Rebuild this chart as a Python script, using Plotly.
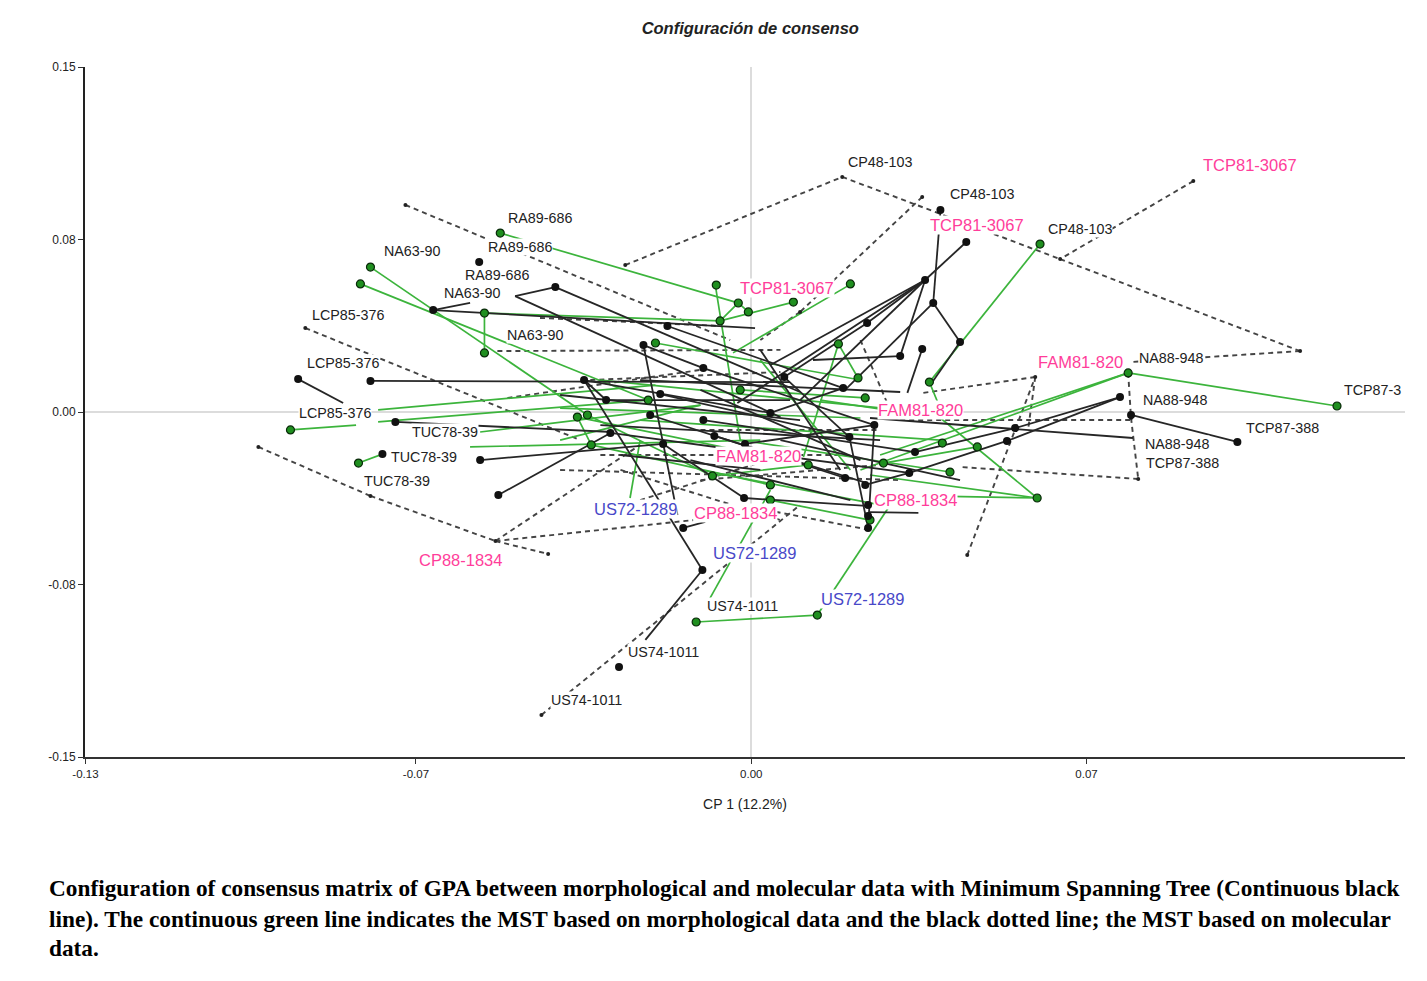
import plotly.graph_objects as go

# ---------------- data (CP1, CP2 coordinates) ----------------
# Consensus configuration: MST edges (x0, y0, x1, y1)
cons_segments = [
    (-0.0946, 0.0143, -0.0852, 0.0039), (-0.0795, 0.0135, 0.0081, 0.0130),
    (-0.0664, 0.0443, 0.0008, 0.0365), (-0.0664, 0.0443, -0.0587, 0.0474),
    (-0.0409, 0.0543, -0.0493, 0.0504), (-0.0493, 0.0504, 0.0061, -0.0022),
    (-0.0409, 0.0543, 0.0102, 0.0087), (-0.0743, -0.0043, -0.0290, -0.0087),
    (-0.0566, -0.0209, -0.0184, -0.0139), (-0.0528, -0.0361, -0.0290, -0.0087),
    (-0.0349, 0.0139, -0.0102, -0.0687), (-0.0102, -0.0687, -0.0221, -0.0991),
    (-0.0142, -0.0504, -0.0096, -0.0478), (-0.0225, 0.0291, -0.0154, -0.0448),
    (-0.0015, -0.0374, 0.0248, -0.0409), (0.0248, -0.0435, 0.0349, -0.0439),
    (0.0257, -0.0057, 0.0244, -0.0504), (0.0395, 0.0870, 0.0380, 0.0474),
    (0.0449, 0.0739, 0.0363, 0.0574), (0.0363, 0.0574, 0.0040, 0.0204),
    (0.0363, 0.0574, 0.0102, 0.0052), (0.0363, 0.0574, 0.0311, 0.0243),
    (0.0311, 0.0243, 0.0129, 0.0226), (0.0380, 0.0474, 0.0436, 0.0304),
    (0.0436, 0.0304, 0.0374, 0.0117), (0.0357, 0.0274, 0.0326, 0.0083),
    (0.0770, 0.0065, 0.0551, -0.0070), (0.0793, -0.0013, 0.1015, -0.0130),
    (0.0248, -0.0026, 0.0797, -0.0113), (0.0770, 0.0065, 0.0534, -0.0126),
    (0.0342, -0.0174, 0.0551, -0.0070), (0.0330, -0.0265, 0.0534, -0.0126),
    (-0.0349, 0.0139, 0.0040, -0.0004), (-0.0303, 0.0052, 0.0081, 0.0052),
    (-0.0175, 0.0374, 0.0192, 0.0104), (-0.0100, 0.0191, 0.0257, -0.0057),
    (-0.0294, -0.0091, 0.0330, -0.0265), (-0.0190, 0.0078, 0.0205, -0.0109),
    (-0.0211, -0.0013, 0.0196, -0.0287), (-0.0100, -0.0035, 0.0342, -0.0174),
    (-0.0077, -0.0104, 0.0242, -0.0309), (-0.0013, -0.0139, 0.0257, -0.0057),
    (0.0192, 0.0104, 0.0040, -0.0004), (0.0069, 0.0152, 0.0205, -0.0109),
    (0.0205, -0.0109, 0.0244, -0.0504), (0.0238, -0.0317, 0.0330, -0.0265),
    (-0.0184, -0.0139, -0.0015, -0.0374), (-0.0029, 0.0039, 0.0363, 0.0574),
    (0.0380, 0.0474, 0.0196, 0.0096), (0.0242, 0.0387, 0.0069, 0.0152),
    (0.0242, 0.0387, 0.0363, 0.0574), (-0.0303, 0.0052, -0.0349, 0.0139),
    (-0.0225, 0.0291, -0.0100, 0.0191),
    (-0.0399, 0.0074, 0.0102, -0.0035), (-0.0315, -0.0057, 0.0269, -0.0122),
    (-0.0273, -0.0187, 0.0019, -0.0252), (-0.0106, 0.0096, 0.0228, -0.0209),
    (0.0019, 0.0270, 0.0186, -0.0252), (0.0061, -0.0122, 0.0436, -0.0296),
    (-0.0232, 0.0139, 0.0311, 0.0087), (-0.0127, -0.0209, 0.0207, -0.0383),
]
cons_pts_x = [-0.0946, -0.0795, -0.0770, -0.0664, -0.0568, -0.0409, -0.0566, -0.0528,
              -0.0142, -0.0102, -0.0276, -0.0015, 0.0395, 0.0449, 0.0363, 0.0380,
              0.0436, 0.0357, 0.0311, 0.0770, 0.0793, 0.1015, 0.0551, 0.0244,
              0.0242, 0.0069, 0.0192, 0.0257, 0.0205, 0.0342, 0.0330, 0.0196,
              0.0238, 0.0534, -0.0175, -0.0225, -0.0100, -0.0349, -0.0190, -0.0303,
              -0.0211, -0.0294, -0.0100, -0.0077, -0.0184, -0.0013, 0.0040, -0.0743,
              0.0244, 0.0244]
cons_pts_y = [0.0143, 0.0135, -0.0183, 0.0443, 0.0652, 0.0543, -0.0209, -0.0361,
              -0.0504, -0.0687, -0.1109, -0.0374, 0.0878, 0.0739, 0.0574, 0.0474,
              0.0304, 0.0274, 0.0243, 0.0065, -0.0013, -0.0130, -0.0070, -0.0504,
              0.0387, 0.0152, 0.0104, -0.0057, -0.0109, -0.0174, -0.0265, -0.0287,
              -0.0317, -0.0126, 0.0374, 0.0291, 0.0191, 0.0139, 0.0078, 0.0052,
              -0.0013, -0.0091, -0.0035, -0.0104, -0.0139, -0.0139, -0.0004, -0.0043,
              -0.0404, -0.0452]

# Morphological configuration: MST edges
morph_segments = [
    (-0.0795, 0.0630, -0.0342, -0.0013), (-0.0816, 0.0557, -0.0215, 0.0052),
    (-0.0557, 0.0430, -0.0065, 0.0396), (-0.0557, 0.0430, -0.0557, 0.0257),
    (-0.0524, 0.0778, -0.0033, 0.0478), (-0.0962, -0.0078, -0.0825, -0.0057),
    (-0.0820, -0.0222, -0.0770, -0.0183), (0.1223, 0.0026, 0.0787, 0.0170),
    (0.0603, 0.0730, 0.0372, 0.0130), (0.0372, 0.0130, 0.0390, 0.0039),
    (0.0138, -0.0883, -0.0115, -0.0913), (0.0138, -0.0883, 0.0286, -0.0417),
    (-0.0086, -0.0809, 0.0040, -0.0339), (-0.0232, -0.0122, -0.0253, -0.0374),
    (0.0209, 0.0557, -0.0038, 0.0257), (-0.0075, 0.0552, -0.0023, -0.0122),
    (-0.0065, 0.0396, 0.0088, 0.0478), (-0.0027, 0.0474, -0.0006, 0.0435),
    (-0.0027, 0.0474, -0.0065, 0.0396), (-0.0200, 0.0300, 0.0228, 0.0139),
    (0.0269, -0.0187, 0.0787, 0.0170), (0.0228, -0.0252, 0.0787, 0.0170),
    (0.0597, -0.0374, 0.0248, -0.0274), (0.0597, -0.0374, 0.0395, -0.0026),
    (0.0597, -0.0374, 0.0269, -0.0361), (-0.0779, 0.0009, -0.0200, 0.0117),
    (-0.0779, -0.0043, -0.0215, 0.0052), (-0.0566, -0.0087, -0.0106, 0.0030),
    (-0.0587, -0.0152, 0.0019, -0.0122), (-0.0363, -0.0022, 0.0119, -0.0230),
    (-0.0334, -0.0143, 0.0040, -0.0317), (-0.0342, -0.0013, -0.0081, -0.0278),
    (-0.0023, 0.0096, 0.0238, 0.0061), (0.0182, 0.0296, 0.0223, 0.0148),
    (0.0182, 0.0296, 0.0109, -0.0196), (0.0276, -0.0222, 0.0472, -0.0152),
    (0.0040, -0.0383, 0.0248, -0.0470), (-0.0081, -0.0278, 0.0119, -0.0230),
    (-0.0023, -0.0122, 0.0415, -0.0261), (-0.0363, -0.0022, -0.0334, -0.0143),
    (-0.0399, 0.0017, 0.0228, -0.0026),
    (-0.0315, 0.0139, 0.0311, 0.0009), (-0.0232, -0.0035, 0.0395, -0.0122),
    (-0.0106, -0.0252, 0.0269, -0.0404), (0.0019, 0.0226, 0.0207, -0.0252),
    (0.0144, 0.0052, 0.0395, -0.0026), (-0.0399, -0.0122, -0.0106, 0.0030),
]
morph_pts_x = [-0.0795, -0.0816, -0.0557, -0.0557, -0.0524, -0.0962, -0.0820, 0.1223,
               0.0787, 0.0603, 0.0372, 0.0138, -0.0115, 0.0597, 0.0207, -0.0073,
               -0.0027, -0.0006, -0.0065, -0.0200, 0.0088, -0.0023, 0.0223, 0.0238,
               0.0182, 0.0399, 0.0415, 0.0472, 0.0276, 0.0248, 0.0119, -0.0363,
               -0.0342, -0.0215, -0.0334, -0.0081, 0.0040, 0.0040]
morph_pts_y = [0.0630, 0.0557, 0.0430, 0.0257, 0.0778, -0.0078, -0.0222, 0.0026,
               0.0170, 0.0730, 0.0130, -0.0883, -0.0913, -0.0374, 0.0557, 0.0552,
               0.0474, 0.0435, 0.0396, 0.0300, 0.0478, 0.0096, 0.0148, 0.0061,
               0.0296, -0.0135, -0.0261, -0.0152, -0.0222, -0.0470, -0.0230, -0.0022,
               -0.0013, 0.0052, -0.0143, -0.0278, -0.0317, -0.0383]

# Molecular configuration: MST edges
mol_segments = [
    (-0.0722, 0.0900, -0.0044, 0.0313), (-0.0263, 0.0639, 0.0190, 0.1022),
    (0.0190, 0.1022, 0.0645, 0.0665), (0.0645, 0.0665, 0.1146, 0.0265),
    (0.1146, 0.0265, 0.0791, 0.0217), (0.0923, 0.1004, 0.0645, 0.0665),
    (0.0357, 0.0935, 0.0102, 0.0435), (0.0102, 0.0435, 0.0019, 0.0313),
    (-0.0931, 0.0365, -0.0357, -0.0122), (-0.1029, -0.0152, -0.0795, -0.0365),
    (-0.0795, -0.0365, -0.0534, -0.0561), (-0.0534, -0.0561, -0.0424, -0.0617),
    (-0.0534, -0.0561, -0.0232, -0.0143), (-0.0534, -0.0561, -0.0121, -0.0470),
    (-0.0438, -0.1317, 0.0102, -0.0404), (0.0451, -0.0622, 0.0593, 0.0152),
    (0.0593, 0.0152, 0.0359, 0.0083), (0.0787, 0.0170, 0.0793, -0.0026),
    (0.0793, -0.0026, 0.0808, -0.0291), (0.0808, -0.0291, 0.0436, -0.0239),
    (0.0311, -0.0035, 0.0793, -0.0035), (-0.0530, 0.0265, 0.0061, 0.0270),
    (-0.0509, 0.0061, -0.0106, 0.0183), (-0.0399, -0.0252, 0.0311, -0.0296),
    (-0.0315, -0.0187, 0.0207, -0.0187), (-0.0106, -0.0078, 0.0269, -0.0078),
    (0.0593, 0.0152, 0.0578, -0.0078), (-0.0273, -0.0252, 0.0061, -0.0470),
    (-0.0023, -0.0404, 0.0248, -0.0513), (-0.0441, 0.0409, -0.0065, 0.0374),
    (-0.0336, 0.0139, 0.0061, 0.0174), (-0.0232, -0.0383, 0.0102, -0.0165),
    (0.0228, 0.0313, 0.0290, 0.0009), (-0.0106, -0.0296, 0.0269, -0.0230),
]
mol_pts_x = [-0.0722, -0.0263, 0.0190, 0.0645, 0.1146, 0.0923, 0.0357, 0.0102,
             -0.0931, -0.1029, -0.0795, -0.0534, -0.0424, -0.0438, 0.0451, 0.0593,
             0.0808, 0.0793]
mol_pts_y = [0.0900, 0.0639, 0.1022, 0.0665, 0.0265, 0.1004, 0.0935, 0.0435,
             0.0365, -0.0152, -0.0365, -0.0561, -0.0617, -0.1317, -0.0622, 0.0152,
             -0.0291, -0.0026]

# Genotype labels
label_text = ["CP48-103", "CP48-103", "CP48-103", "RA89-686", "RA89-686", "RA89-686",
              "NA63-90", "NA63-90", "NA63-90", "LCP85-376", "LCP85-376", "LCP85-376",
              "TUC78-39", "TUC78-39", "TUC78-39", "US74-1011", "US74-1011", "US74-1011",
              "NA88-948", "NA88-948", "NA88-948", "TCP87-388", "TCP87-388",
              "TCP81-3067", "TCP81-3067", "TCP81-3067", "FAM81-820", "FAM81-820",
              "FAM81-820", "CP88-1834", "CP88-1834", "CP88-1834",
              "US72-1289", "US72-1289", "US72-1289"]
label_x = [0.0269, 0.0482, 0.0687, -0.0441, -0.0482, -0.0530,
           -0.0708, -0.0582, -0.0451, -0.0841, -0.0852, -0.0869,
           -0.0639, -0.0683, -0.0739, -0.0019, -0.0184, -0.0344,
           0.0877, 0.0885, 0.0889, 0.1109, 0.0900,
           0.1042, 0.0472, 0.0075, 0.0687, 0.0353,
           0.0015, 0.0342, -0.0033, -0.0608,
           -0.0242, 0.0006, 0.0232]
label_y = [0.1087, 0.0948, 0.0796, 0.0843, 0.0717, 0.0596,
           0.0700, 0.0517, 0.0335, 0.0422, 0.0213, -0.0004,
           -0.0087, -0.0196, -0.0300, -0.0843, -0.1043, -0.1252,
           0.0235, 0.0052, -0.0139, -0.0070, -0.0222,
           0.1074, 0.0813, 0.0539, 0.0217, 0.0009,
           -0.0191, -0.0383, -0.0439, -0.0643,
           -0.0422, -0.0613, -0.0813]
label_group = ["k"] * 23 + ["p"] * 9 + ["b"] * 3
edge_label = ("TCP87-3", 0.1236, 0.0096)

x_tickvals = [-0.139, -0.07, 0.0, 0.07]
x_ticktext = ["-0.13", "-0.07", "0.00", "0.07"]
y_tickvals = [-0.15, -0.075, 0.0, 0.075, 0.15]
y_ticktext = ["-0.15", "-0.08", "0.00", "0.08", "0.15"]

caption_lines = [
    "Configuration of consensus matrix of GPA between morphological and molecular data with Minimum Spanning Tree (Continuous black",
    "line). The continuous green line indicates the MST based on morphological data and the black dotted line; the MST based on molecular",
    "data.",
]

# ---------------- figure ----------------
def polyline(segs):
    xs, ys = [], []
    for x0, y0, x1, y1 in segs:
        xs += [x0, x1, None]
        ys += [y0, y1, None]
    return xs, ys

fig = go.Figure()

mx, my = polyline(mol_segments)
fig.add_trace(go.Scatter(x=mx, y=my, mode="lines", hoverinfo="skip",
                         line=dict(color="#444444", width=1.9, dash="5px,4px")))
gx, gy = polyline(morph_segments)
fig.add_trace(go.Scatter(x=gx, y=gy, mode="lines", hoverinfo="skip",
                         line=dict(color="#3cb43c", width=1.7)))
cx, cy = polyline(cons_segments)
fig.add_trace(go.Scatter(x=cx, y=cy, mode="lines", hoverinfo="skip",
                         line=dict(color="#262626", width=1.8)))

fig.add_trace(go.Scatter(x=mol_pts_x, y=mol_pts_y, mode="markers",
                         marker=dict(color="#222", size=4)))
fig.add_trace(go.Scatter(x=morph_pts_x, y=morph_pts_y, mode="markers",
                         marker=dict(color="#1f8f1f", size=8,
                                     line=dict(color="#0a2a0a", width=1.2))))
fig.add_trace(go.Scatter(x=cons_pts_x, y=cons_pts_y, mode="markers",
                         marker=dict(color="#111", size=8)))

colors = {"k": "#222222", "p": "#ff3d9a", "b": "#4848c8"}
sizes = {"k": 14.3, "p": 16.5, "b": 16.5}
for t, x, y, g in zip(label_text, label_x, label_y, label_group):
    fig.add_annotation(x=x, y=y, text=t, showarrow=False, xanchor="center", yanchor="middle",
                       font=dict(family="Liberation Sans, Arial", size=sizes[g], color=colors[g]),
                       bgcolor="white", borderpad=0)
fig.add_annotation(x=edge_label[1], y=edge_label[2], text=edge_label[0], showarrow=False,
                   xanchor="left", yanchor="middle", bgcolor="white", borderpad=0,
                   font=dict(family="Liberation Sans, Arial", size=14.3, color="#222222"))

cap_y = [-0.190, -0.235, -0.277]
for line, yy in zip(caption_lines, cap_y):
    fig.add_annotation(xref="paper", yref="paper", x=-0.0288, y=yy, text="<b>" + line + "</b>",
                       showarrow=False, xanchor="left", yanchor="middle",
                       font=dict(family="Liberation Serif, Times New Roman", size=23.3, color="black"))

fig.update_layout(
    width=1427, height=981,
    margin=dict(l=85, r=22, t=67, b=224),
    paper_bgcolor="white", plot_bgcolor="white",
    showlegend=False,
    title=dict(text="<b><i>Configuración de consenso</i></b>", x=0.504, xref="paper",
               y=1 - 28 / 981, yref="container", xanchor="center", yanchor="middle",
               font=dict(family="Liberation Sans, Arial", size=16.5, color="#222")),
    xaxis=dict(range=[-0.1391, 0.1365], tickvals=x_tickvals, ticktext=x_ticktext,
               showline=True, linecolor="#333", linewidth=2, ticks="outside", ticklen=5,
               tickcolor="#333", showgrid=False, zeroline=True, zerolinecolor="#dcdcdc",
               zerolinewidth=2, tickfont=dict(family="Liberation Sans, Arial", size=11.5, color="#222"),
               title=dict(text="CP 1 (12.2%)", standoff=20,
                          font=dict(family="Liberation Sans, Arial", size=14, color="#222"))),
    yaxis=dict(range=[-0.15, 0.15], tickvals=y_tickvals, ticktext=y_ticktext,
               showline=True, linecolor="#222", linewidth=2, ticks="outside", ticklen=5,
               tickcolor="#333", showgrid=False, zeroline=True, zerolinecolor="#dcdcdc",
               zerolinewidth=2, tickfont=dict(family="Liberation Sans, Arial", size=12, color="#222")),
)

fig.write_html("out.html")
